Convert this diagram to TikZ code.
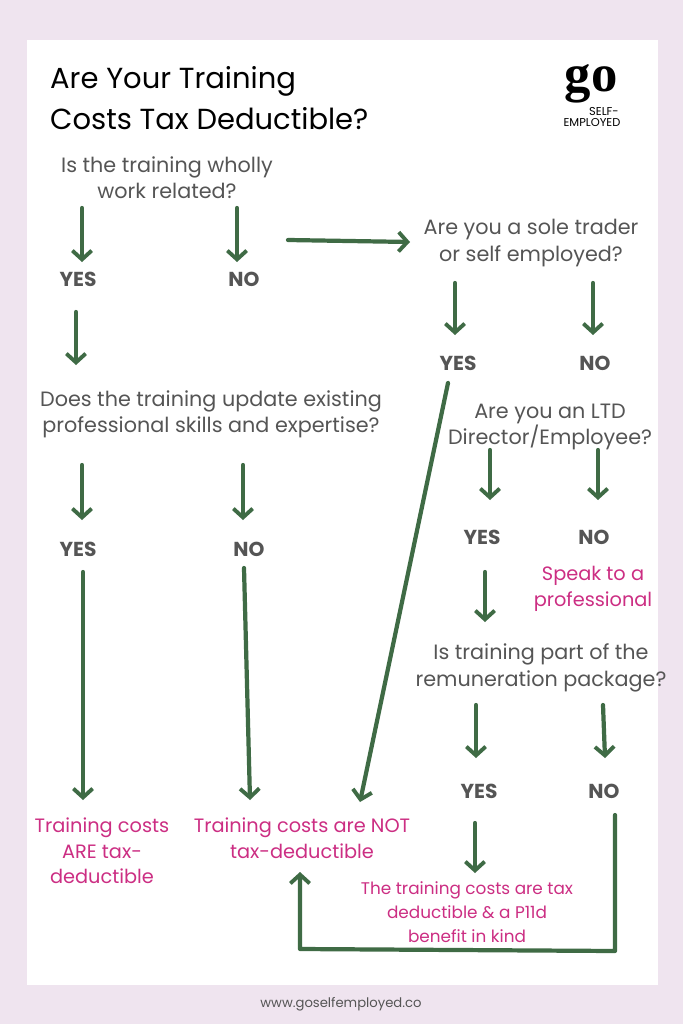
\documentclass[tikz,border=0pt]{standalone}
\usepackage{fontspec}
\setmainfont{Poppins}
\usetikzlibrary{arrows.meta}
\definecolor{bgpink}{HTML}{EFE4EF}
\definecolor{arrowgreen}{HTML}{3F6B45}
\definecolor{qgray}{HTML}{555555}
\definecolor{resmag}{HTML}{CC2E83}
\tikzset{
  question/.style={align=center, text=qgray, font=\fontsize{11.8}{15}\selectfont},
  answer/.style={text=qgray, font=\fontsize{11.5}{13}\selectfont\bfseries},
  result/.style={align=center, text=resmag, font=\fontsize{11}{14.5}\selectfont},
  flow/.style={draw=arrowgreen, line width=2.4pt, line cap=round, line join=round,
    -{Straight Barb[length=5pt,width=11pt,line width=2.2pt]}},
}
\begin{document}
\begin{tikzpicture}[x=0.02cm,y=-0.02cm]
  % background and panel
  \fill[bgpink] (0,0) rectangle (683,1024);
  \fill[white] (27,40) rectangle (658,985);
  \useasboundingbox (0,0) rectangle (683,1024);

  % title and logo
  \node[anchor=west, align=left, font=\fontsize{16.5}{23}\selectfont] (title) at (44,98)
    {Are Your Training\\Costs Tax Deductible?};
  \node[font=\fontsize{30}{30}\selectfont\bfseries] (logo) at (591,84) {\fontspec{Liberation Serif}go};
  \node[font=\fontsize{6.5}{7}\selectfont] (self) at (604,112) {SELF-};
  \node[font=\fontsize{6.5}{7}\selectfont] (emp) at (592,123) {EMPLOYED};

  % questions
  \node[question] (q1) at (167,178) {Is the training wholly\\work related?};
  \node[question] (q2) at (531,243) {Are you a sole trader\\or self employed?};
  \node[question] (q3) at (211,414) {Does the training update existing\\professional skills and expertise?};
  \node[question] (q4) at (550,427) {Are you an LTD\\Director/Employee?};
  \node[question] (q5) at (541,668) {Is training part of the\\remuneration package?};

  % answers
  \node[answer] (yes1) at (78,279) {YES};
  \node[answer] (no1) at (244,279) {NO};
  \node[answer] (yes2) at (458,363) {YES};
  \node[answer] (no2) at (595,363) {NO};
  \node[answer] (yes3) at (78,549) {YES};
  \node[answer] (no3) at (249,549) {NO};
  \node[answer] (yes4) at (482,537) {YES};
  \node[answer] (no4) at (594,537) {NO};
  \node[answer] (yes5) at (479,791) {YES};
  \node[answer] (no5) at (604,791) {NO};

  % results
  \node[result] (speak) at (593,589) {Speak to a\\professional};
  \node[result] (are) at (102,851) {Training costs\\ARE tax-\\deductible};
  \node[result] (not) at (302,838) {Training costs are NOT\\tax-deductible};
  \node[result, font=\fontsize{9.6}{13.5}\selectfont] (bik) at (467,912)
    {The training costs are tax\\deductible \& a P11d\\benefit in kind};

  % connectors
  \draw[flow] (82,208) -- (82,262);
  \draw[flow] (237,208) -- (237,262);
  \draw[flow] (288,240) -- (410,242);
  \draw[flow] (76,312) -- (76,365);
  \draw[flow] (455,283) -- (455,335);
  \draw[flow] (593,283) -- (593,335);
  \draw[flow] (82,465) -- (82,520);
  \draw[flow] (243,465) -- (243,520);
  \draw[flow] (490,450) -- (490,500);
  \draw[flow] (598,450) -- (598,500);
  \draw[flow] (83,572) -- (83,800);
  \draw[flow] (244,568) -- (250,800);
  \draw[flow] (448,383) -- (360,802);
  \draw[flow] (485,572) -- (485,622);
  \draw[flow] (476,705) -- (476,758);
  \draw[flow] (603,705) -- (605,758);
  \draw[flow] (475,823) -- (475,873);
  \draw[flow] (615,815) -- (615,951) -- (300,949) -- (300,872);

  % footer
  \node[text=qgray, font=\fontsize{7.5}{9}\selectfont] (web) at (341,1004) {www.goselfemployed.co};
\end{tikzpicture}
\end{document}
